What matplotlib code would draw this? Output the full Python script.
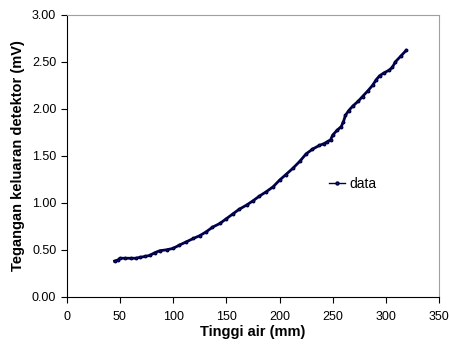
import numpy as np
import matplotlib.pyplot as plt

plt.rcParams['font.family'] = ['Liberation Sans', 'DejaVu Sans']

# tinggi air (mm) and tegangan (mV)
tinggi = [45, 48, 50, 55, 60, 65, 69, 74, 78, 83, 87.5, 94, 100, 106, 112.5, 119,
          125, 131, 137, 144, 150, 156, 162, 169, 175, 181, 187.5, 194, 200, 206,
          212.5, 219, 225, 231, 237.5, 242, 245, 248, 250, 254, 258, 260, 262, 265,
          269, 274, 278, 283, 287.5, 291, 294, 298, 303, 306, 309, 314, 319]
tegangan = [0.38, 0.39, 0.41, 0.41, 0.41, 0.41, 0.42, 0.43, 0.44, 0.47, 0.49, 0.50,
            0.515, 0.55, 0.585, 0.62, 0.65, 0.69, 0.74, 0.78, 0.83, 0.88, 0.93, 0.975,
            1.02, 1.07, 1.117, 1.17, 1.24, 1.30, 1.366, 1.44, 1.52, 1.57, 1.61, 1.63,
            1.65, 1.67, 1.72, 1.77, 1.81, 1.86, 1.93, 1.98, 2.03, 2.08, 2.13, 2.19,
            2.25, 2.31, 2.35, 2.38, 2.41, 2.44, 2.50, 2.56, 2.62]

fig = plt.figure(figsize=(4.49, 3.5), dpi=100)
ax = fig.add_axes([0.1485, 0.152, 0.8295, 0.806])

ax.plot(tinggi, tegangan, color='#000050', lw=2.0, marker='o', ms=1.8,
        mfc='#1a1a80', mec='#000040', label='data')

ax.set_xlim(0, 350)
ax.set_ylim(0, 3.0)
ax.set_xticks(np.arange(0, 351, 50))
ax.set_yticks(np.arange(0, 3.01, 0.5))
ax.set_yticklabels(['%.2f' % v for v in np.arange(0, 3.01, 0.5)])
ax.tick_params(direction='out', length=4, labelsize=9, colors='black')
ax.tick_params(axis='x', pad=6)

for s in ['top', 'right']:
    ax.spines[s].set_color('#a0a0a0')
for s in ['left', 'bottom']:
    ax.spines[s].set_color('black')

ax.set_xlabel('Tinggi air (mm)', fontsize=10.5, fontweight='bold', labelpad=2)
ax.set_ylabel('Tegangan keluaran detektor (mV)', fontsize=10.5, fontweight='bold', labelpad=5)

leg = ax.legend(loc='center left', bbox_to_anchor=(0.67, 0.40), frameon=False,
                fontsize=10, handlelength=1.2, handletextpad=0.3, markerscale=1.2)
for h in leg.get_lines():
    h.set_linewidth(1)

fig.savefig('out.png', dpi=100)
